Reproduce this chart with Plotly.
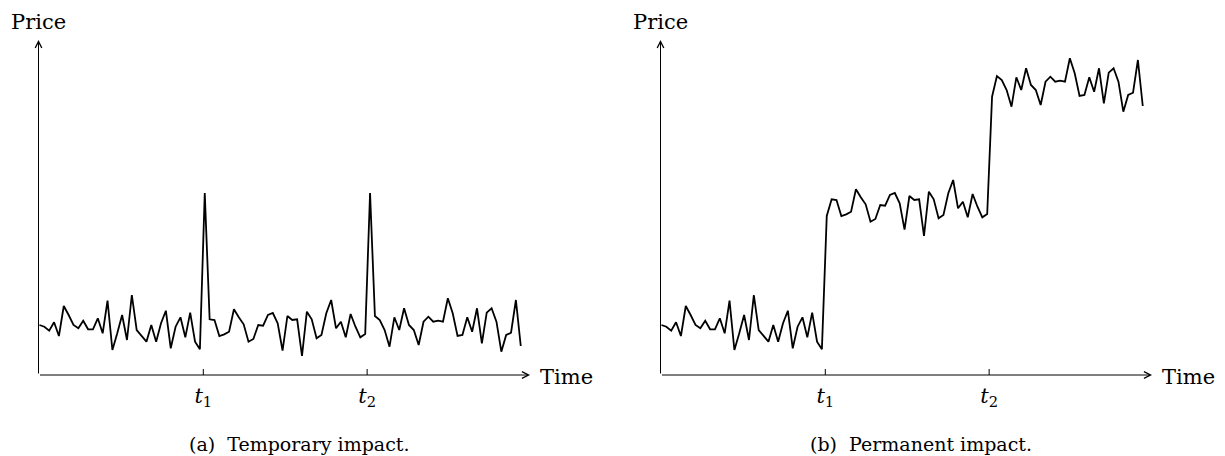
import plotly.graph_objects as go

# ---------------- data ----------------
time_index = list(range(100))

temporary_price = [
    50, 48.3, 44.3, 52.7, 39, 69, 60, 50, 46.7, 54.3,
    45.7, 45.7, 56.7, 41.7, 74.3, 25, 41.7, 60, 35, 80,
    45, 39, 33.3, 50, 33.3, 51.7, 64.3, 26.7, 48.3, 57.7,
    37.7, 62.3, 33.3, 25.7, 182, 55.7, 55, 39, 40.7, 43.3,
    65.7, 57.7, 50.7, 33.3, 36, 50, 49.3, 60, 62, 51.7,
    24.3, 59, 55, 55.7, 19, 63.3, 55.7, 36.7, 40, 61.7,
    75, 46.7, 53.3, 37.7, 61, 48.3, 37.7, 41, 182, 59,
    55, 45, 28.3, 57.7, 45, 66.7, 50, 45, 30, 53.3,
    58.3, 53.3, 54.3, 53.3, 76.7, 61.7, 39, 40, 57.7, 43.3,
    66.7, 31.7, 62.3, 66.7, 53.3, 23.3, 40, 42.3, 75, 29,
]

permanent_price = [
    50, 48.3, 44.3, 52.7, 39, 69, 60, 50, 46.7, 54.3,
    45.7, 45.7, 56.7, 41.7, 74.3, 25, 41.7, 60, 35, 80,
    45, 39, 33.3, 50, 33.3, 51.7, 64.3, 26.7, 48.3, 57.7,
    37.7, 62.3, 33.3, 25.7, 159, 175.7, 175, 159, 160.7, 163.3,
    185.7, 177.7, 170.7, 153.3, 156, 170, 169.3, 180, 182, 171.7,
    145.3, 179, 175, 175.7, 139, 183.3, 175.7, 156.7, 160, 181.7,
    195, 166.7, 173.3, 157.7, 181, 168.3, 157.7, 161, 278.3, 299,
    295, 285, 268.3, 297.7, 285, 306.7, 290, 285, 270, 293.3,
    298.3, 293.3, 294.3, 293.3, 316.7, 301.7, 279, 280, 297.7, 283.3,
    306.7, 271.7, 302.3, 306.7, 293.3, 263.3, 280, 282.3, 315, 269,
]

t_tick_values = [33.7, 67.4]
t_tick_labels = ["<i>t</i><sub>1</sub>", "<i>t</i><sub>2</sub>"]
x_label = "Time"
y_label = "Price"
captions = ["(a)\u00a0\u00a0Temporary impact.", "(b)\u00a0\u00a0Permanent impact."]

# ---------------- layout geometry ----------------
W, H = 1225, 456
X_RANGE = [-0.2, 100.9]
Y_RANGE = [0, 335]
FONT = "DejaVu Serif"

x_domains = [[38.5 / W, 530 / W], [660.5 / W, 1152 / W]]
y_domain = [(H - 375) / H, (H - 40) / H]
caption_x = [187 / W, 808 / W]

fig = go.Figure()

series = [temporary_price, permanent_price]
for k in range(2):
    xa = "x" if k == 0 else "x2"
    ya = "y" if k == 0 else "y2"
    fig.add_trace(go.Scatter(
        x=time_index, y=series[k], mode="lines",
        line=dict(color="black", width=1.8),
        xaxis=xa, yaxis=ya, showlegend=False, hoverinfo="skip",
        cliponaxis=False,
    ))

axis_common_x = dict(
    range=X_RANGE, showgrid=False, zeroline=False, showline=False,
    tickmode="array", tickvals=t_tick_values, ticktext=t_tick_labels,
    ticks="", tickfont=dict(family=FONT, size=21, color="black"),
    ticklabelstandoff=6, fixedrange=True,
)
axis_common_y = dict(
    range=Y_RANGE, domain=y_domain, showgrid=False, zeroline=False,
    showline=False, showticklabels=False, ticks="", fixedrange=True,
)

fig.update_layout(
    width=W, height=H,
    margin=dict(l=0, r=0, t=0, b=0),
    paper_bgcolor="white", plot_bgcolor="white",
    xaxis=dict(domain=x_domains[0], anchor="y", **axis_common_x),
    xaxis2=dict(domain=x_domains[1], anchor="y2", **axis_common_x),
    yaxis=dict(anchor="x", **axis_common_y),
    yaxis2=dict(anchor="x2", **axis_common_y),
)

annotations = []
shapes = []
for k in range(2):
    xr = "x" if k == 0 else "x2"
    yr = "y" if k == 0 else "y2"
    # x axis with arrow
    annotations.append(dict(
        x=X_RANGE[1], y=0, ax=X_RANGE[0], ay=0,
        xref=xr, yref=yr, axref=xr, ayref=yr,
        showarrow=True, arrowhead=5, arrowsize=1.3, arrowwidth=1,
        arrowcolor="black", text="", standoff=0, startstandoff=0,
    ))
    # y axis with arrow
    annotations.append(dict(
        x=X_RANGE[0], y=Y_RANGE[1], ax=X_RANGE[0], ay=0,
        xref=xr, yref=yr, axref=xr, ayref=yr,
        showarrow=True, arrowhead=5, arrowsize=1.3, arrowwidth=1,
        arrowcolor="black", text="", standoff=0, startstandoff=0,
    ))
    # axis labels
    annotations.append(dict(
        x=X_RANGE[0], y=Y_RANGE[1], xref=xr, yref=yr,
        text=y_label, showarrow=False, xanchor="center", yanchor="bottom",
        yshift=4, font=dict(family=FONT, size=21, color="black"),
    ))
    annotations.append(dict(
        x=X_RANGE[1], y=0, xref=xr, yref=yr,
        text=x_label, showarrow=False, xanchor="left", yanchor="middle",
        xshift=8, yshift=-2, font=dict(family=FONT, size=21, color="black"),
    ))
    # caption
    annotations.append(dict(
        x=caption_x[k], y=(H - 444) / H, xref="paper", yref="paper",
        text=captions[k], showarrow=False, xanchor="left", yanchor="middle",
        font=dict(family=FONT, size=19, color="black"),
    ))
    # tick marks crossing the axis
    for tv in t_tick_values:
        shapes.append(dict(
            type="line", xref=xr, yref=yr, x0=tv, x1=tv, y0=-6, y1=6,
            line=dict(color="black", width=1),
        ))

fig.update_layout(annotations=annotations, shapes=shapes)

fig.write_html(
    "out.html",
    config={"displayModeBar": False, "staticPlot": True},
    post_script="document.body.style.margin='0';document.body.style.overflow='hidden';",
)
